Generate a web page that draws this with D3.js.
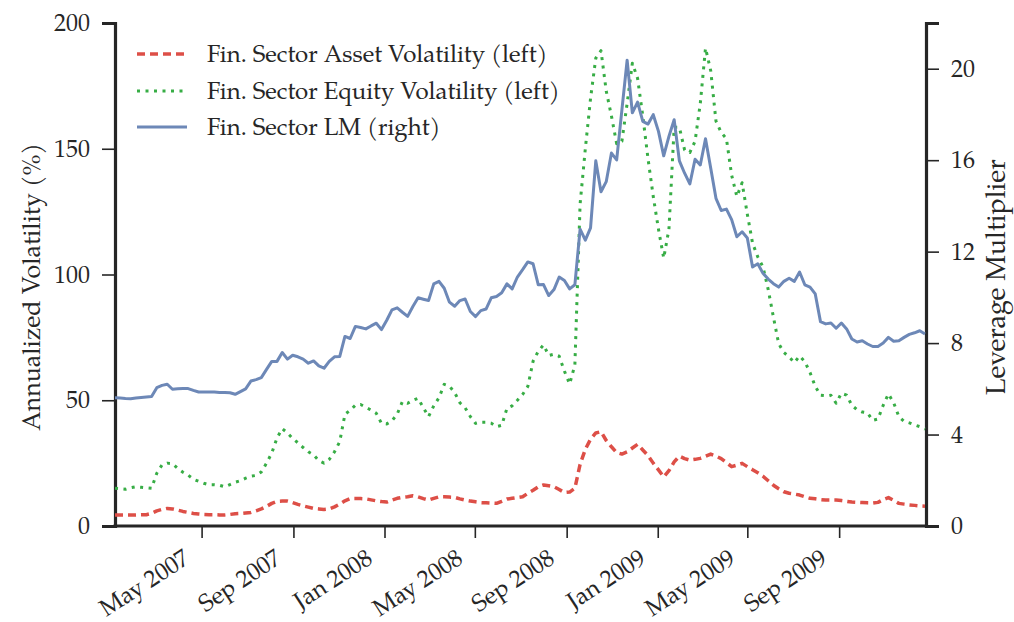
<!DOCTYPE html>
<html>
<head>
<meta charset="utf-8">
<script src="https://cdn.jsdelivr.net/npm/d3@7"></script>
<style>
  body { margin: 0; background: #fff; }
  svg text { font-family: "TeX Gyre Pagella", "Palatino Linotype", Palatino, "Liberation Serif", serif; fill: #262626; }
</style>
</head>
<body>
<div class="chart-box"></div>
<script>
// weekly observations, first one on this date
const startDate = new Date(2007, 0, 5);

// Fin. Sector Asset Volatility (%), left axis
const assetVol = [
  4.4, 4.4, 4.4, 4.4, 4.4, 4.5, 4.5, 5.0, 6.0, 6.6,
  7.0, 6.8, 6.3, 5.8, 5.4, 5.0, 4.8, 4.6, 4.5, 4.5,
  4.4, 4.4, 4.6, 4.9, 5.0, 5.2, 5.4, 6.0, 6.8, 7.8,
  9.0, 9.8, 9.9, 9.9, 9.3, 8.6, 8.0, 7.5, 7.0, 6.8,
  6.6, 6.8, 7.6, 8.7, 10.0, 10.9, 10.9, 10.9, 10.8, 10.4,
  10.0, 9.7, 9.5, 10.3, 11.0, 11.4, 11.6, 12.0, 11.6, 10.9,
  10.3, 11.0, 11.6, 11.6, 11.5, 11.4, 10.8, 10.3, 9.9, 9.6,
  9.3, 9.2, 9.1, 9.0, 9.8, 10.7, 11.0, 11.3, 11.6, 13.0,
  14.2, 15.6, 16.3, 16.0, 15.6, 14.5, 13.3, 13.5, 15.0, 24.5,
  30.5, 34.5, 37.0, 37.5, 34.0, 31.5, 29.2, 28.6, 29.5, 31.0,
  32.5, 30.2, 28.0, 25.0, 22.3, 19.5, 22.0, 25.5, 27.8, 26.8,
  26.2, 26.5, 26.9, 27.7, 28.6, 27.8, 26.8, 25.2, 23.6, 24.2,
  24.9, 23.6, 22.4, 21.2, 19.8, 18.0, 16.2, 14.8, 13.6, 13.0,
  12.7, 12.3, 11.6, 11.0, 10.8, 10.5, 10.3, 10.3, 10.3, 10.1,
  9.8, 9.5, 9.4, 9.3, 9.2, 9.1, 9.4, 10.5, 11.3, 10.2,
  9.0, 8.7, 8.4, 8.2, 8.0, 7.9
];

// Fin. Sector Equity Volatility (%), left axis
const equityVol = [
  15.0, 14.8, 14.6, 15.2, 15.6, 15.4, 15.2, 15.0, 21.0, 24.3,
  25.0, 24.8, 22.9, 21.4, 20.2, 18.6, 17.8, 17.0, 16.4, 16.4,
  16.2, 15.6, 16.5, 17.4, 18.0, 19.0, 19.8, 20.1, 21.5, 25.0,
  29.0, 35.0, 38.7, 37.0, 34.8, 33.1, 31.2, 29.5, 28.3, 26.0,
  25.0, 26.5, 29.5, 33.5, 44.4, 46.0, 48.0, 48.3, 47.2, 46.1,
  44.8, 40.8, 40.6, 41.8, 44.5, 49.5, 48.8, 50.0, 50.8, 47.0,
  43.5, 47.8, 51.0, 56.3, 55.6, 53.0, 49.0, 47.0, 43.5, 40.8,
  41.3, 41.3, 40.9, 39.5, 40.0, 46.8, 47.8, 50.0, 52.3, 55.5,
  65.5, 69.5, 72.0, 67.8, 68.3, 67.5, 61.6, 56.5, 64.0, 128.0,
  150.0, 170.0, 186.0, 189.0, 173.0, 163.0, 152.0, 153.0, 168.0, 184.0,
  178.0, 163.0, 146.0, 131.0, 118.0, 106.5, 118.0, 158.5, 158.5, 149.5,
  148.5, 153.0, 168.0, 190.0, 181.0, 161.0, 156.5, 154.0, 139.5, 131.0,
  136.5, 124.0, 112.5, 107.0, 103.0, 94.0, 83.0, 72.5, 69.0, 67.3,
  65.0, 67.6, 65.4, 61.0, 55.5, 52.0, 51.8, 52.0, 48.8, 52.8,
  52.0, 48.0, 46.2, 45.3, 45.0, 42.0, 42.5, 48.0, 52.5, 49.0,
  43.5, 41.6, 41.0, 40.2, 39.5, 38.5
];

// Fin. Sector leverage multiplier, right axis
const leverage = [
  5.61, 5.60, 5.58, 5.57, 5.60, 5.62, 5.64, 5.66, 6.05, 6.15,
  6.20, 5.98, 6.00, 6.01, 6.01, 5.93, 5.86, 5.86, 5.86, 5.86,
  5.84, 5.84, 5.83, 5.76, 5.88, 6.00, 6.34, 6.40, 6.49, 6.85,
  7.20, 7.20, 7.59, 7.30, 7.47, 7.40, 7.30, 7.12, 7.22, 7.00,
  6.90, 7.20, 7.40, 7.41, 8.29, 8.20, 8.73, 8.68, 8.62, 8.75,
  8.87, 8.59, 9.00, 9.45, 9.54, 9.35, 9.17, 9.60, 9.98, 9.92,
  9.86, 10.59, 10.70, 10.40, 9.79, 9.61, 9.86, 9.93, 9.38, 9.16,
  9.42, 9.49, 9.98, 10.04, 10.20, 10.59, 10.37, 10.89, 11.21, 11.55,
  11.47, 10.55, 10.56, 10.08, 10.34, 10.89, 10.74, 10.37, 10.55, 12.98,
  12.50, 13.04, 15.97, 14.62, 15.06, 16.31, 16.01, 18.20, 20.37, 18.07,
  18.54, 17.70, 17.58, 17.99, 17.26, 16.19, 17.04, 17.77, 15.97, 15.43,
  14.96, 16.04, 15.79, 16.94, 15.65, 14.33, 13.80, 13.86, 13.40, 12.65,
  12.87, 12.60, 11.33, 11.47, 11.05, 10.80, 10.60, 10.45, 10.70, 10.84,
  10.70, 11.11, 10.55, 10.45, 10.15, 8.94, 8.84, 8.88, 8.65, 8.88,
  8.62, 8.18, 8.05, 8.10, 7.96, 7.85, 7.85, 8.00, 8.25, 8.08,
  8.10, 8.25, 8.38, 8.45, 8.54, 8.40
];

const leftTicks = [0, 50, 100, 150, 200];
const rightTicks = [0, 4, 8, 12, 16, 20];
const xTickDates = ["2007-05-01", "2007-09-01", "2008-01-01", "2008-05-01",
  "2008-09-01", "2009-01-01", "2009-05-01", "2009-09-01"];

const series = [
  {name: "Fin. Sector Asset Volatility (left)", values: assetVol, axis: "left",
    color: "#dd4f47", width: 3.5, dash: "8,5"},
  {name: "Fin. Sector Equity Volatility (left)", values: equityVol, axis: "left",
    color: "#37ad45", width: 3, dash: "3,5.5"},
  {name: "Fin. Sector LM (right)", values: leverage, axis: "right",
    color: "#6d88b7", width: 3, dash: null}
];

const W = 1014, H = 622;
const plot = {left: 115, right: 926, top: 23, bottom: 526};

const svg = d3.select(".chart-box").append("svg")
  .attr("width", W)
  .attr("height", H);

const dates = assetVol.map((v, i) => d3.timeDay.offset(startDate, 7 * i));

const x = d3.scaleTime()
  .domain(d3.extent(dates))
  .range([plot.left, plot.right - 1]);

const yLeft = d3.scaleLinear().domain([0, 200]).range([plot.bottom, plot.top]);
const yRight = d3.scaleLinear().domain([0, 22]).range([plot.bottom, plot.top]);

const fmtMonth = d3.timeFormat("%b %Y");
const parse = d3.timeParse("%Y-%m-%d");

// axes
const gx = svg.append("g")
  .attr("transform", "translate(0," + plot.bottom + ")")
  .call(d3.axisBottom(x)
    .tickValues(xTickDates.map(parse))
    .tickFormat(fmtMonth)
    .tickSizeOuter(0)
    .tickSize(12));

gx.selectAll("text")
  .attr("font-size", 24)
  .attr("text-anchor", "end")
  .attr("y", 0)
  .attr("dy", 0)
  .attr("transform", "translate(-11,36) rotate(-33)");

const gl = svg.append("g")
  .attr("transform", "translate(" + plot.left + ",0)")
  .call(d3.axisLeft(yLeft).tickValues(leftTicks).tickSizeOuter(0).tickSize(13).tickPadding(12));
gl.selectAll("text").attr("font-size", 24);

const gr = svg.append("g")
  .attr("transform", "translate(" + plot.right + ",0)")
  .call(d3.axisRight(yRight).tickValues(rightTicks).tickSizeOuter(0).tickSize(13).tickPadding(12));
gr.selectAll("text").attr("font-size", 24);

[gx, gl, gr].forEach(g => {
  g.select(".domain").attr("stroke", "#262626").attr("stroke-width", 3.2);
  g.selectAll(".tick line").attr("stroke", "#262626").attr("stroke-width", 1.6);
  g.attr("font-family", null);
});
gx.select(".domain").attr("d", "M" + (plot.left - 1.5) + ",0H" + (plot.right + 1.5));

// lines
series.forEach(s => {
  const yScale = s.axis === "left" ? yLeft : yRight;
  const line = d3.line()
    .x((d, i) => x(dates[i]))
    .y(d => yScale(d));
  svg.append("path")
    .datum(s.values)
    .attr("fill", "none")
    .attr("stroke", s.color)
    .attr("stroke-width", s.width)
    .attr("stroke-dasharray", s.dash)
    .attr("stroke-linejoin", "round")
    .attr("d", line);
});

// axis titles
svg.append("text")
  .attr("transform", "translate(40,287) rotate(-90)")
  .attr("text-anchor", "middle")
  .attr("font-size", 25)
  .text("Annualized Volatility (%)");

svg.append("text")
  .attr("transform", "translate(1005,277) rotate(-90)")
  .attr("text-anchor", "middle")
  .attr("font-size", 27)
  .text("Leverage Multiplier");

// legend
const legend = svg.append("g").attr("class", "legend");
const rowY = [54, 91, 127];
series.forEach((s, i) => {
  legend.append("line")
    .attr("x1", 137).attr("x2", 187)
    .attr("y1", rowY[i]).attr("y2", rowY[i])
    .attr("stroke", s.color)
    .attr("stroke-width", s.width)
    .attr("stroke-dasharray", s.dash);
  legend.append("text")
    .attr("x", 207)
    .attr("y", rowY[i])
    .attr("dy", "0.33em")
    .attr("font-size", 24)
    .text(s.name);
});
</script>
</body>
</html>
